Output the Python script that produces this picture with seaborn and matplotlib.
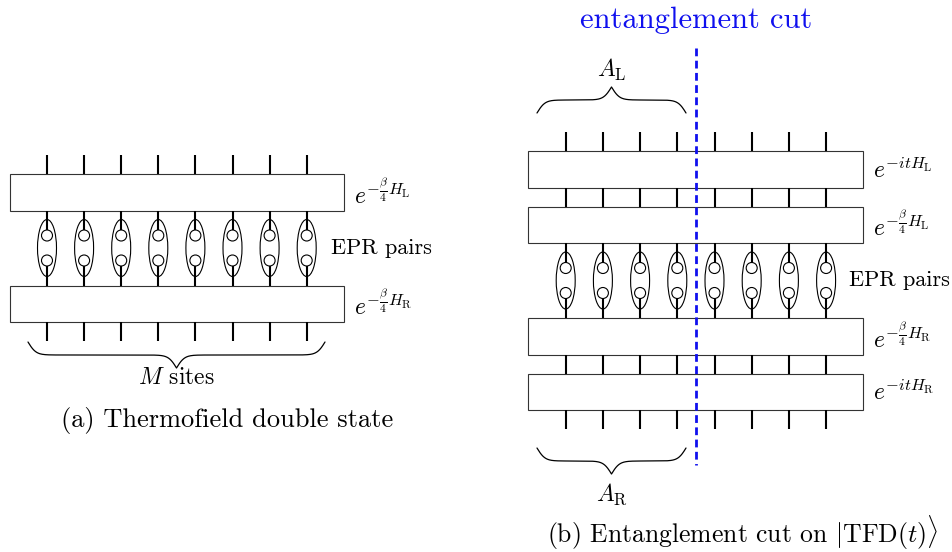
import matplotlib
matplotlib.use("Agg")
import matplotlib.pyplot as plt
import matplotlib.patches as mpatches
import numpy as np
import seaborn as sns

# 数据: 站点与标签
sites = [0, 1, 2, 3, 4, 5, 6, 7]
cut_after_site = 3  # A_L / A_R = sites 0..3

labels_a = [r"$e^{-\frac{\beta}{4}H_{\mathrm{L}}}$", "EPR pairs", r"$e^{-\frac{\beta}{4}H_{\mathrm{R}}}$"]
labels_b = [r"$e^{-itH_{\mathrm{L}}}$", r"$e^{-\frac{\beta}{4}H_{\mathrm{L}}}$", "EPR pairs",
            r"$e^{-\frac{\beta}{4}H_{\mathrm{R}}}$", r"$e^{-itH_{\mathrm{R}}}$"]
layers_a = ["box", "epr", "box"]
layers_b = ["box", "box", "epr", "box", "box"]

caption_a = "(a) Thermofield double state"
caption_b = r"(b) Entanglement cut on $|\mathrm{TFD}(t)\rangle$"
cut_title = "entanglement cut"
brace_a = r"$M$ sites"
brace_top = r"$A_{\mathrm{L}}$"
brace_bottom = r"$A_{\mathrm{R}}$"

sns.set_theme(style="white")
plt.rcParams["font.family"] = ["cmr10", "DejaVu Serif"]
plt.rcParams["mathtext.fontset"] = "cm"
plt.rcParams["axes.unicode_minus"] = False
plt.rcParams["axes.formatter.use_mathtext"] = True
plt.rcParams["text.color"] = "black"

W, H = 952, 552
fig = plt.figure(figsize=(W / 100, H / 100), dpi=100)
ax = fig.add_axes([0, 0, 1, 1])
ax.set_xlim(0, W)
ax.set_ylim(H, 0)
ax.axis("off")

BOX_H = 36.5
GAP = 19
EPR_H = 75
WIRE_LW = 1.5
EDGE_LW = 0.8
LAB_FS = 17
EPR_FS = 16


def brace(x0, x1, y, h, up=True):
    """画花括号, y 为端点位置, h 为到尖端的高度"""
    mid = (x0 + x1) / 2
    xs = np.linspace(x0, mid, 200)
    k = 0.25
    s = 1 / (1 + np.exp(-k * (xs - x0))) + 1 / (1 + np.exp(-k * (xs - mid))) - 0.5
    s = (s - s[0]) / (s[-1] - s[0])
    xx = np.concatenate([xs, (2 * mid - xs)[::-1]])
    ss = np.concatenate([s, s[::-1]])
    sign = -1 if up else 1
    ax.plot(xx, y + sign * h * ss, color="black", lw=0.9)


def draw_panel(x_box0, x_box1, x_site0, dx, y_top, layers, labels, epr_lx):
    xs = [x_site0 + i * dx for i in sites]
    y = y_top
    # top dangling wires
    ax.vlines(xs, y, y + GAP, color="black", lw=WIRE_LW)
    y += GAP
    for j, (kind, lab) in enumerate(zip(layers, labels)):
        if kind == "box":
            ax.add_patch(mpatches.Rectangle((x_box0, y), x_box1 - x_box0, BOX_H,
                                            fill=False, ec="#333333", lw=EDGE_LW))
            ax.text(x_box1 + 10, y + BOX_H / 2 + 1, lab, fontsize=LAB_FS, va="center", ha="left")
            y += BOX_H
            nxt = layers[j + 1] if j + 1 < len(layers) else None
            if nxt == "box" or nxt is None:
                ax.vlines(xs, y, y + GAP, color="black", lw=WIRE_LW)
                y += GAP
        else:
            yc = y + EPR_H / 2
            for x in xs:
                ax.add_patch(mpatches.Ellipse((x, yc), 19, 57, fill=False, ec="black", lw=EDGE_LW))
                for dy in (-12.5, 12.5):
                    ax.add_patch(mpatches.Circle((x, yc + dy), 5.5, fill=False, ec="black", lw=EDGE_LW))
                ax.vlines(x, y, yc - 18, color="black", lw=WIRE_LW)
                ax.vlines(x, yc + 18, y + EPR_H, color="black", lw=WIRE_LW)
            ax.text(epr_lx, yc, lab, fontsize=EPR_FS, va="center", ha="left")
            y += EPR_H
    return xs, y


# panel (a)
xs_a, y_end_a = draw_panel(10, 344, 47, 37.1, 155, layers_a, labels_a, 331)
brace(28, 325, 342, 26, up=False)
ax.text(176, 378, brace_a, fontsize=17, ha="center", va="center")
ax.text(227, 420, caption_a, fontsize=19, ha="center", va="center")

# panel (b)
xs_b, y_end_b = draw_panel(528, 863, 565.7, 37.2, 132, layers_b, labels_b, 849)
cut_x = (xs_b[cut_after_site] + xs_b[cut_after_site + 1]) / 2
ax.plot([cut_x, cut_x], [48, 465], color="#1010ee", lw=2.0, ls=(0, (2.8, 1.6)))
ax.text(cut_x, 20, cut_title, fontsize=22, color="#1010ee", ha="center", va="center")
brace(537, 686, 113, 26, up=True)
ax.text(611.5, 70, brace_top, fontsize=17, ha="center", va="center")
brace(537, 686, 448, 26, up=False)
ax.text(611.5, 494, brace_bottom, fontsize=17, ha="center", va="center")
ax.text(743, 533, caption_b, fontsize=18.5, ha="center", va="center")

fig.savefig("out.png", dpi=100, facecolor="white")
